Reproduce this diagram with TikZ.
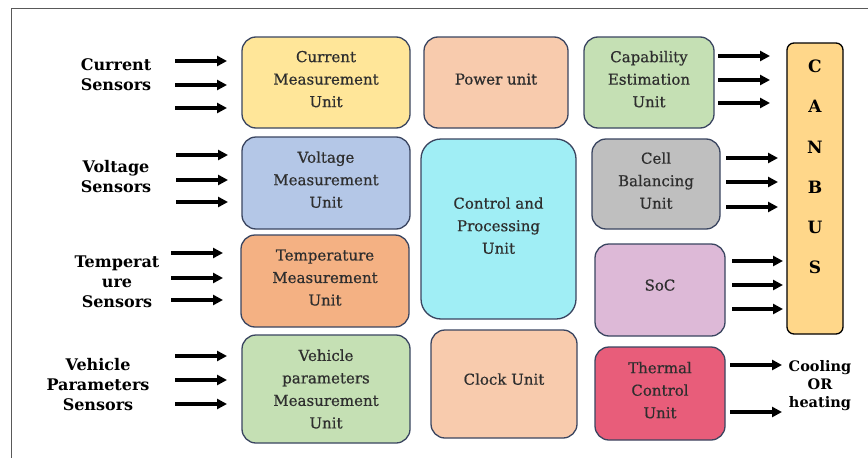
\documentclass[tikz,border=0pt]{standalone}
\usepackage{fontspec}
\setmainfont{DejaVu Serif}
\newfontface\boxfont{DejaVu Serif}[FakeBold=0.6]
\usetikzlibrary{arrows.meta}
\definecolor{bordc}{HTML}{3A4560}
\definecolor{ccur}{HTML}{FFE699}
\definecolor{cpow}{HTML}{F8CBAD}
\definecolor{cvol}{HTML}{B4C7E7}
\definecolor{cctl}{HTML}{A0EEF5}
\definecolor{ctmp}{HTML}{F4B183}
\definecolor{cveh}{HTML}{C5E0B4}
\definecolor{ccel}{HTML}{BFBFBF}
\definecolor{csoc}{HTML}{DDB9D7}
\definecolor{cthm}{HTML}{E85D7A}
\definecolor{ccan}{HTML}{FFD78A}
\definecolor{btxt}{HTML}{2E2E2E}
\tikzset{
  unitbox/.style={draw=bordc, line width=1.3pt, rounded corners=14pt, align=center,
    inner sep=0pt, text=btxt, font=\fontsize{15}{22.5}\boxfont},
  raised/.style={text depth=7pt},
  sensorlbl/.style={align=center, inner sep=0pt, font=\fontsize{16}{20}\selectfont\bfseries},
  arr/.style={line width=3.1pt, -{Triangle[length=10pt,width=10pt]}},
}
\begin{document}
\begin{tikzpicture}[x=1pt,y=-1pt]
\useasboundingbox (0,0) rectangle (868,458);
\fill[white] (0,0) rectangle (868,458);
\coordinate (ftl) at (11,8);
\coordinate (ftr) at (868,8);
\coordinate (fbl) at (11,458);
\draw[gray!70!black, line width=1pt] (ftr) -- (ftl) -- (fbl);

% left column
\node[unitbox, raised, fill=ccur, minimum width=168pt, minimum height=91pt] (cur) at (326,82.5) {Current\\Measurement\\Unit};
\node[unitbox, raised, fill=cvol, minimum width=168pt, minimum height=92pt] (vol) at (326,183) {Voltage\\Measurement\\Unit};
\node[unitbox, raised, fill=ctmp, minimum width=168pt, minimum height=92pt] (tmp) at (325,281) {Temperature\\Measurement\\Unit};
\node[unitbox, fill=cveh, minimum width=168pt, minimum height=108pt] (veh) at (326,389) {Vehicle\\parameters\\Measurement\\Unit};
% middle column
\node[unitbox, raised, fill=cpow, minimum width=144pt, minimum height=91pt] (pow) at (496,82.5) {Power unit};
\node[unitbox, raised, fill=cctl, minimum width=155pt, minimum height=180pt, rounded corners=20pt] (ctl) at (498.5,229) {Control and\\Processing\\Unit};
\node[unitbox, text depth=10pt, fill=cpow, minimum width=146pt, minimum height=108pt] (clk) at (504,384) {Clock Unit};
% right column
\node[unitbox, raised, fill=cveh, minimum width=130pt, minimum height=91pt] (cap) at (649,82.5) {Capability\\Estimation\\Unit};
\node[unitbox, raised, fill=ccel, minimum width=128pt, minimum height=90pt] (cel) at (656,184) {Cell\\Balancing\\Unit};
\node[unitbox, text depth=10pt, fill=csoc, minimum width=130pt, minimum height=92pt] (soc) at (660,290) {SoC};
\node[unitbox, raised, fill=cthm, minimum width=130pt, minimum height=93pt] (thm) at (660,393.5) {Thermal\\Control\\Unit};
% CAN bus
\node[draw=black, line width=1.3pt, rounded corners=7pt, fill=ccan, minimum width=56pt, minimum height=291pt, inner sep=0pt] (can) at (815,188.5) {};
\node[align=center, inner sep=0pt, font=\fontsize{17}{40.2}\selectfont\bfseries] (cantext) at (815,167) {C\\A\\N\\B\\U\\S};

% sensor labels
\node[sensorlbl] (lcur) at (116,75) {Current\\Sensors};
\node[sensorlbl] (lvol) at (116,177) {Voltage\\Sensors};
\node[sensorlbl] (ltmp) at (117,281.5) {Temperat\\ure\\Sensors};
\node[sensorlbl] (lveh) at (98,385) {Vehicle\\Parameters\\Sensors};
\node[align=center, inner sep=0pt, font=\fontsize{14.5}{18}\selectfont\bfseries] (cool) at (820,386) {Cooling\\OR\\heating};

% arrows
\foreach \y [count=\i] in {61,85,108} {
  \coordinate (a1s\i) at (175,\y); \coordinate (a1e\i) at (227,\y);
  \draw[arr] (a1s\i) -- (a1e\i);}
\foreach \y [count=\i] in {155,180,202} {
  \coordinate (a2s\i) at (176,\y); \coordinate (a2e\i) at (228,\y);
  \draw[arr] (a2s\i) -- (a2e\i);}
\foreach \y [count=\i] in {253,278,300} {
  \coordinate (a3s\i) at (171,\y); \coordinate (a3e\i) at (223,\y);
  \draw[arr] (a3s\i) -- (a3e\i);}
\foreach \y [count=\i] in {356,380,404} {
  \coordinate (a4s\i) at (175,\y); \coordinate (a4e\i) at (227,\y);
  \draw[arr] (a4s\i) -- (a4e\i);}
\foreach \y [count=\i] in {56,80,103} {
  \coordinate (b1s\i) at (718,\y); \coordinate (b1e\i) at (770,\y);
  \draw[arr] (b1s\i) -- (b1e\i);}
\foreach \y [count=\i] in {158,182,207} {
  \coordinate (b2s\i) at (726,\y); \coordinate (b2e\i) at (778,\y);
  \draw[arr] (b2s\i) -- (b2e\i);}
\foreach \y [count=\i] in {261,285,309} {
  \coordinate (b3s\i) at (732,\y); \coordinate (b3e\i) at (783,\y);
  \draw[arr] (b3s\i) -- (b3e\i);}
\foreach \y [count=\i] in {365,412} {
  \coordinate (b4s\i) at (730,\y); \coordinate (b4e\i) at (782,\y);
  \draw[arr] (b4s\i) -- (b4e\i);}
\end{tikzpicture}
\end{document}
